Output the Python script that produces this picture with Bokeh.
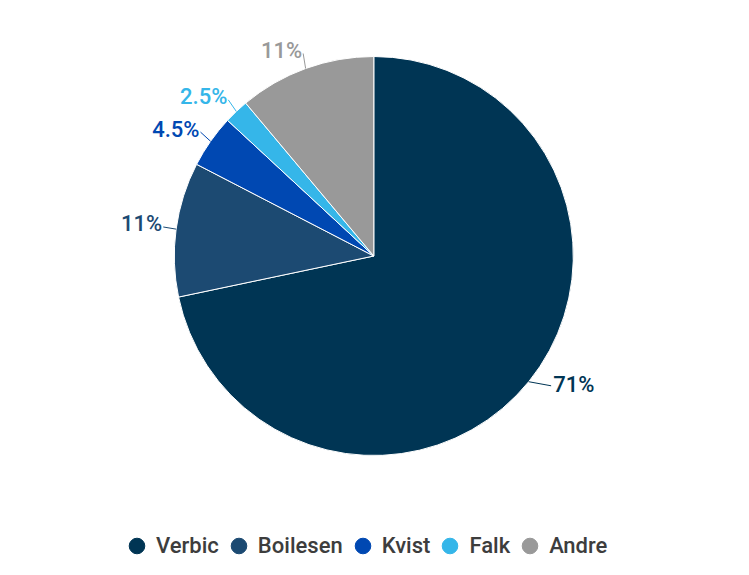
import math
from bokeh.plotting import figure
from bokeh.models import ColumnDataSource, Range1d, Legend, LegendItem
from bokeh.core.properties import value
from bokeh.embed import file_html
from bokeh.resources import INLINE

# ---- data ----
names = ["Verbic", "Boilesen", "Kvist", "Falk", "Andre"]
shares = [71.7, 10.9, 4.3, 2.0, 11.1]
label_texts = ["71%", "11%", "4.5%", "2.5%", "11%"]
colors = ["#003554", "#1c4a72", "#0048b2", "#35b6e9", "#999999"]

# ---- layout constants ----
W, H = 749, 575
CX, CY, R = 373.3, 319.5, 199.5
LABEL_DIST = 16
FONT = "Roboto Medium, Roboto"

total = sum(shares)
starts, ends, mids = [], [], []
acc = 0.0
for s in shares:
    a0 = math.pi / 2 - 2 * math.pi * acc / total
    acc += s
    a1 = math.pi / 2 - 2 * math.pi * acc / total
    starts.append(a0)
    ends.append(a1)
    mids.append((a0 + a1) / 2)

p = figure(width=W, height=H, output_backend="svg",
           toolbar_location=None, min_border=0,
           x_range=Range1d(0, W), y_range=Range1d(0, H))
p.axis.visible = False
p.grid.visible = False
p.outline_line_color = None
p.background_fill_color = "white"
p.border_fill_color = "white"

src = ColumnDataSource(dict(start=starts, end=ends, color=colors))
p.wedge(x=CX, y=CY, radius=R, start_angle="start", end_angle="end",
        direction="clock", fill_color="color", line_color="white",
        line_width=1, source=src)

# leader lines + labels
x0, y0, x1, y1, tx, ty, al = [], [], [], [], [], [], []
for m in mids:
    c, s = math.cos(m), math.sin(m)
    ex, ey = CX + R * c, CY + R * s
    ax, ay = CX + (R + LABEL_DIST) * c, CY + (R + LABEL_DIST) * s
    if c >= 0:
        ax += 10; ay += 6
        tx.append(ax + 2); al.append("left"); ty.append(ay + 1)
    else:
        ax += 3
        tx.append(ax - 1); al.append("right"); ty.append(ay + 3)
    x0.append(ex); y0.append(ey); x1.append(ax); y1.append(ay)

lsrc = ColumnDataSource(dict(x0=x0, y0=y0, x1=x1, y1=y1, tx=tx, ty=ty,
                             align=al, text=label_texts, color=colors))
p.segment(x0="x0", y0="y0", x1="x1", y1="y1", line_color="color",
          line_width=1, source=lsrc)
p.text(x="tx", y="ty", text="text", text_align="align",
       text_baseline="middle", text_color="color",
       text_font=value(FONT), text_font_size="22px", source=lsrc)

# legend
items = []
for n, col in zip(names, colors):
    r = p.scatter(x=[float("nan")], y=[float("nan")], marker="circle",
                  size=0, fill_color=col, line_color=col)
    items.append(LegendItem(label=n, renderers=[r]))

legend = Legend(items=items, orientation="horizontal", location=(117, 10),
                glyph_width=39, glyph_height=39, label_standoff=0,
                spacing=0, padding=0, margin=0,
                border_line_color=None, background_fill_alpha=0,
                label_text_font=FONT, label_text_font_size="22px",
                label_text_color="#3d3d3d", label_height=39)
p.add_layout(legend)

open("out.html", "w").write(file_html(p, INLINE))
